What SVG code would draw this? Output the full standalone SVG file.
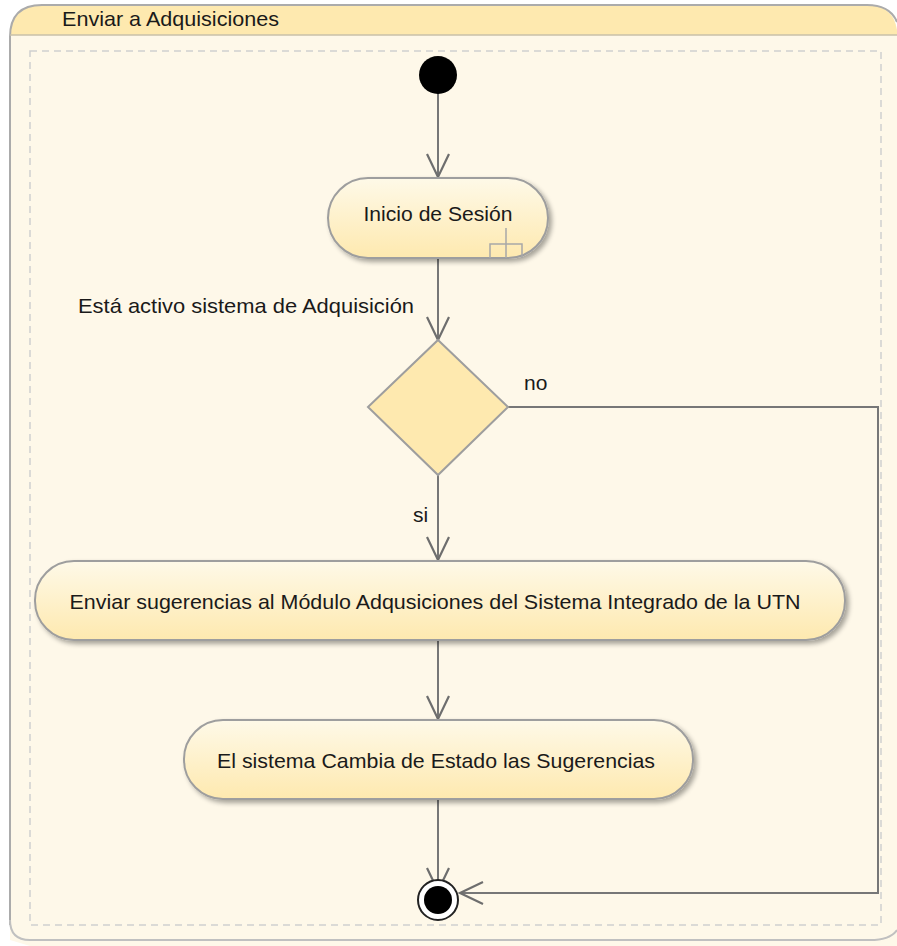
<svg xmlns="http://www.w3.org/2000/svg" width="897" height="946" viewBox="0 0 897 946">
<defs>
<linearGradient id="actGrad" x1="0" y1="0" x2="0" y2="1">
<stop offset="0" stop-color="#FEF9E8"/>
<stop offset="1" stop-color="#FEE9AF"/>
</linearGradient>
<filter id="shadow" x="-10%" y="-20%" width="130%" height="150%">
<feGaussianBlur in="SourceAlpha" stdDeviation="2.5"/>
<feOffset dx="3" dy="3" result="b"/>
<feComponentTransfer><feFuncA type="linear" slope="0.35"/></feComponentTransfer>
<feMerge><feMergeNode/><feMergeNode in="SourceGraphic"/></feMerge>
</filter>
<marker id="open" markerWidth="30" markerHeight="30" refX="24" refY="12" orient="auto" markerUnits="userSpaceOnUse">
<path d="M1,1 L24,12 L1,23" fill="none" stroke="#6E6E6E" stroke-width="2.2"/>
</marker>
</defs>
<style>
text{font-family:"Liberation Sans",Arial,sans-serif;font-size:21px;fill:#1a1a1a}
.act{fill:url(#actGrad);stroke:#9E9E9E;stroke-width:2;filter:url(#shadow)}
.conn{fill:none;stroke:#777777;stroke-width:2}
</style>
<g id="frame">
<path d="M10,940 L10,37 Q10,5 42,5 L867,5 Q897,5 897,35 L897,946 L30,946" fill="#FEF8E9" stroke="none"/>
<path d="M10,35 Q12,5 42,5 L867,5 Q893,5 897,30 L897,35 Z" fill="#FEE9AF"/>
<path d="M10,925 L10,37 Q10,5 42,5 L867,5 Q890,5 897,22" fill="none" stroke="#ABABAB" stroke-width="2"/>
<line x1="10" y1="35" x2="897" y2="35" stroke="#C8C0A8" stroke-width="1.5"/>
<path d="M10,920 Q10,940 30,940 L870,940 Q890,940 897,930" fill="none" stroke="#C0C0C0" stroke-width="2"/>
<rect x="30" y="51" width="851" height="874" fill="none" stroke="#CFCFCF" stroke-width="1.5" stroke-dasharray="7,5"/>
<text x="62" y="26" textLength="217" lengthAdjust="spacingAndGlyphs" font-size="20">Enviar a Adquisiciones</text>
</g>
<g id="connectors">
<line class="conn" x1="438" y1="93" x2="438" y2="177" marker-end="url(#open)"/>
<line class="conn" x1="438" y1="259" x2="438" y2="340" marker-end="url(#open)"/>
<line class="conn" x1="438" y1="475" x2="438" y2="560" marker-end="url(#open)"/>
<line class="conn" x1="438" y1="640" x2="438" y2="719" marker-end="url(#open)"/>
<line class="conn" x1="438" y1="799" x2="438" y2="891" marker-end="url(#open)"/>
<polyline class="conn" points="508,407 878,407 878,893 460,893" marker-end="url(#open)"/>
<text x="78" y="313" textLength="336" lengthAdjust="spacingAndGlyphs">Está activo sistema de Adquisición</text>
<text x="524" y="390">no</text>
<text x="413" y="522">si</text>
</g>
<g id="start">
<circle cx="438" cy="75" r="19" fill="#000"/>
</g>
<g id="inicio">
<rect class="act" x="328" y="178" width="220" height="80" rx="40" ry="40"/>
<path d="M490,258 L490,244 L522,244 L522,258 M506,228 L506,258" fill="none" stroke="#A8A8A8" stroke-width="1.5"/>
<text x="438" y="221" text-anchor="middle" textLength="149" lengthAdjust="spacingAndGlyphs">Inicio de Sesión</text>
</g>
<g id="decision">
<polygon points="438,340 508,407 438,475 368,407" fill="#FEE9AF" stroke="#9E9E9E" stroke-width="2"/>
</g>
<g id="enviar">
<rect class="act" x="35" y="561" width="810" height="79" rx="39" ry="39"/>
<text x="435" y="609" text-anchor="middle" textLength="731" lengthAdjust="spacingAndGlyphs">Enviar sugerencias al Módulo Adqusiciones del Sistema Integrado de la UTN</text>
</g>
<g id="cambia">
<rect class="act" x="184" y="720" width="509" height="79" rx="39" ry="39"/>
<text x="436" y="768" text-anchor="middle" textLength="438" lengthAdjust="spacingAndGlyphs">El sistema Cambia de Estado las Sugerencias</text>
</g>
<g id="end">
<circle cx="438" cy="900" r="20" fill="#fff" stroke="#222" stroke-width="2"/>
<circle cx="438" cy="900" r="14" fill="#000"/>
</g>
</svg>
